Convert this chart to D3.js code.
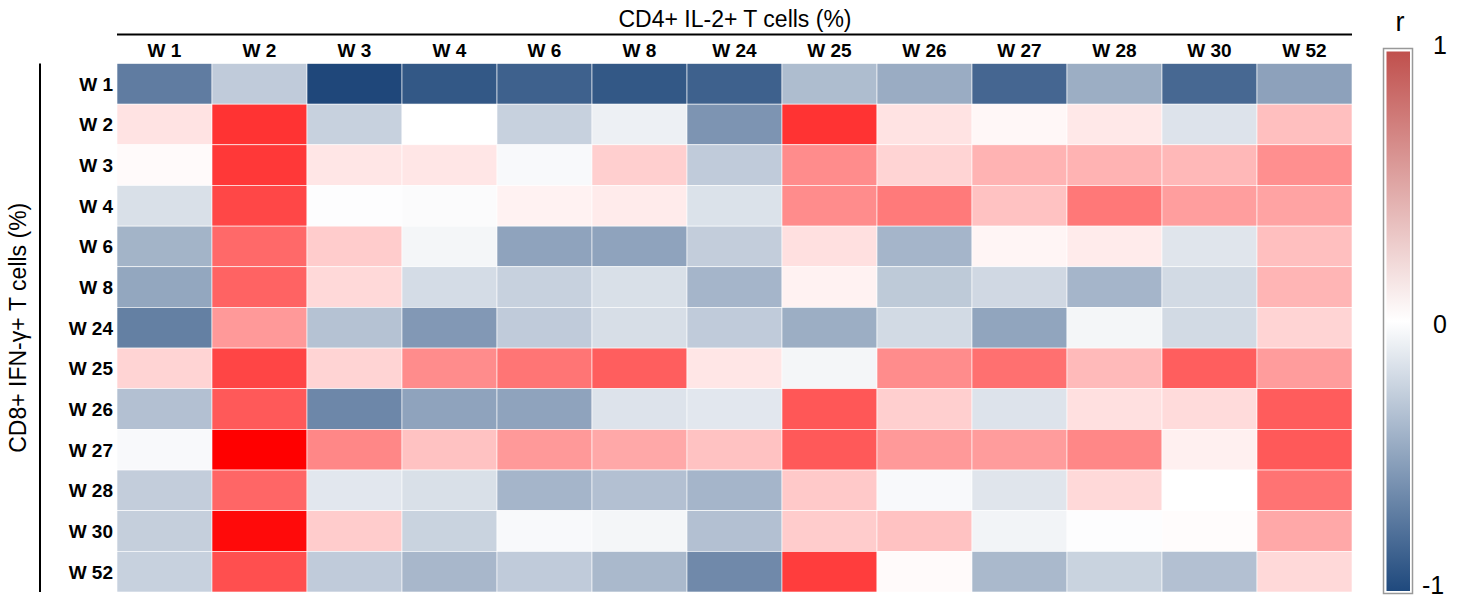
<!DOCTYPE html>
<html>
<head>
<meta charset="utf-8">
<script src="https://cdn.jsdelivr.net/npm/d3@7"></script>
<style>
  body { margin: 0; background: #fff; }
  text { font-family: Arial, "Liberation Sans", sans-serif; }
</style>
</head>
<body>
<svg id="chart" width="1460" height="600"></svg>
<script>
var svg = d3.select('#chart');

// columns: CD4+ IL-2+ weeks, rows: CD8+ IFN-g+ weeks
var colWeeks = ['W 1','W 2','W 3','W 4','W 6','W 8','W 24','W 25','W 26','W 27','W 28','W 30','W 52'];
var rowWeeks = ['W 1','W 2','W 3','W 4','W 6','W 8','W 24','W 25','W 26','W 27','W 28','W 30','W 52'];

// correlation r, one array per row
var rW1  = [-0.71,-0.28,-1.00,-0.91,-0.86,-0.91,-0.86,-0.36,-0.45,-0.83,-0.44,-0.82,-0.51];
var rW2  = [ 0.11, 0.80,-0.25, 0.00,-0.25,-0.08,-0.58, 0.80, 0.11, 0.03, 0.09,-0.15, 0.25];
var rW3  = [ 0.02, 0.78, 0.10, 0.10,-0.03, 0.19,-0.28, 0.45, 0.17, 0.30, 0.30, 0.28, 0.44];
var rW4  = [-0.17, 0.72,-0.01,-0.02, 0.05, 0.08,-0.16, 0.45, 0.52, 0.24, 0.53, 0.38, 0.36];
var rW6  = [-0.41, 0.59, 0.20,-0.05,-0.50,-0.50,-0.27, 0.12,-0.40, 0.04, 0.08,-0.14, 0.25];
var rW8  = [-0.48, 0.61, 0.15,-0.19,-0.25,-0.17,-0.40, 0.05,-0.29,-0.21,-0.40,-0.20, 0.29];
var rW24 = [-0.69, 0.40,-0.33,-0.56,-0.28,-0.18,-0.28,-0.44,-0.20,-0.49,-0.05,-0.20, 0.17];
var rW25 = [ 0.17, 0.73, 0.17, 0.45, 0.54, 0.63, 0.10,-0.05, 0.45, 0.56, 0.27, 0.63, 0.39];
var rW26 = [-0.34, 0.65,-0.65,-0.50,-0.50,-0.15,-0.13, 0.66, 0.19,-0.15, 0.12, 0.14, 0.64];
var rW27 = [-0.03, 1.00, 0.47, 0.24, 0.40, 0.34, 0.24, 0.65, 0.40, 0.39, 0.47, 0.06, 0.65];
var rW28 = [-0.27, 0.60,-0.13,-0.17,-0.40,-0.34,-0.40, 0.21,-0.03,-0.14, 0.15, 0.00, 0.55];
var rW30 = [-0.26, 0.96, 0.20,-0.24,-0.03,-0.05,-0.34, 0.20, 0.24,-0.06,-0.01, 0.01, 0.34];
var rW52 = [-0.25, 0.69,-0.28,-0.39,-0.28,-0.38,-0.64, 0.76, 0.02,-0.38,-0.24,-0.34, 0.15];

var rows = [rW1, rW2, rW3, rW4, rW6, rW8, rW24, rW25, rW26, rW27, rW28, rW30, rW52];

var legendTicks = [1, 0, -1];

var cells = [];
rows.forEach(function(vals, i) {
    vals.forEach(function(v, j) {
        cells.push({row: rowWeeks[i], col: colWeeks[j], value: v});
    });
});

// plot box (window.top is reserved, so no bare "top")
var gLeft = 117, gTop = 63.5, gRight = 1352, gBottom = 592;

var x = d3.scaleBand().domain(colWeeks).range([gLeft, gRight]);
var y = d3.scaleBand().domain(rowWeeks).range([gTop, gBottom]);

var color = d3.scaleLinear()
    .domain([-1, 0, 1])
    .range(['#1f477a', '#ffffff', '#ff0000']);

// cells
svg.append('g').attr('class', 'cells')
    .selectAll('rect')
    .data(cells)
    .enter().append('rect')
    .attr('x', function(d) { return x(d.col); })
    .attr('y', function(d) { return y(d.row); })
    .attr('width', x.bandwidth())
    .attr('height', y.bandwidth())
    .style('fill', function(d) { return color(d.value); })
    .style('stroke', '#fff')
    .style('stroke-width', 0.6);

// column labels
svg.append('g')
    .selectAll('text')
    .data(colWeeks)
    .enter().append('text')
    .attr('x', function(d) { return x(d) + x.bandwidth() / 2; })
    .attr('y', 57)
    .attr('text-anchor', 'middle')
    .attr('font-size', 19)
    .attr('font-weight', 'bold')
    .text(function(d) { return d; });

// row labels
svg.append('g')
    .selectAll('text')
    .data(rowWeeks)
    .enter().append('text')
    .attr('x', 113)
    .attr('y', function(d) { return y(d) + y.bandwidth() / 2 + 7; })
    .attr('text-anchor', 'end')
    .attr('font-size', 19)
    .attr('font-weight', 'bold')
    .text(function(d) { return d; });

// top title + rule
svg.append('line')
    .attr('x1', gLeft).attr('x2', gRight)
    .attr('y1', 34.5).attr('y2', 34.5)
    .style('stroke', '#000').style('stroke-width', 2);

svg.append('text')
    .attr('x', 735)
    .attr('y', 27)
    .attr('text-anchor', 'middle')
    .attr('font-size', 23)
    .text('CD4+ IL-2+ T cells (%)');

// left title + rule
svg.append('line')
    .attr('x1', 40).attr('x2', 40)
    .attr('y1', gTop).attr('y2', gBottom)
    .style('stroke', '#000').style('stroke-width', 2);

svg.append('text')
    .attr('transform', 'translate(26,' + ((gTop + gBottom) / 2) + ') rotate(-90)')
    .attr('text-anchor', 'middle')
    .attr('font-size', 23)
    .text('CD8+ IFN-\u03b3+ T cells (%)');

// colour bar
var defs = svg.append('defs');
var grad = defs.append('linearGradient')
    .attr('id', 'rgrad')
    .attr('x1', 0).attr('x2', 0).attr('y1', 0).attr('y2', 1);
grad.append('stop').attr('offset', '0%').attr('stop-color', '#c0504d');
grad.append('stop').attr('offset', '50%').attr('stop-color', '#ffffff');
grad.append('stop').attr('offset', '100%').attr('stop-color', '#1f497d');

var lg = svg.append('g').attr('class', 'legend');
var ly = d3.scaleLinear().domain([1, -1]).range([51.5, 591]);

lg.append('rect')
    .attr('x', 1383.5).attr('y', 48.5)
    .attr('width', 29).attr('height', 545)
    .style('fill', '#fff')
    .style('stroke', '#999')
    .style('stroke-width', 1.5);

lg.append('rect')
    .attr('x', 1386.5).attr('y', ly(1))
    .attr('width', 23.5).attr('height', ly(-1) - ly(1))
    .style('fill', 'url(#rgrad)');

lg.append('text')
    .attr('x', 1400).attr('y', 31)
    .attr('text-anchor', 'middle')
    .attr('font-size', 27)
    .text('r');

lg.selectAll('.tick')
    .data(legendTicks)
    .enter().append('text')
    .attr('class', 'tick')
    .attr('x', function(d) { return d < 0 ? 1422 : 1433; })
    .attr('y', function(d) { return d === 1 ? 54 : (d === 0 ? 333 : 594); })
    .attr('font-size', 25)
    .text(function(d) { return d; });
</script>
</body>
</html>
